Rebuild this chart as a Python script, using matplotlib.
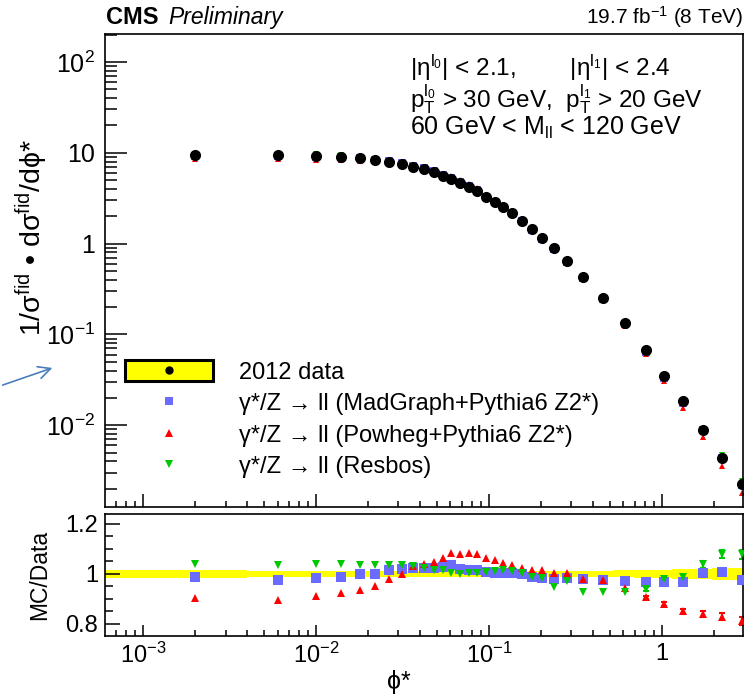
import matplotlib.pyplot as plt
import numpy as np
from matplotlib.legend_handler import HandlerTuple
from matplotlib.lines import Line2D
from matplotlib.patches import FancyArrowPatch, Patch
from matplotlib.ticker import FixedLocator, FuncFormatter, LogLocator, MultipleLocator, NullFormatter

plt.rcParams["font.family"] = ["Liberation Sans", "DejaVu Sans"]
plt.rcParams["mathtext.fontset"] = "custom"
plt.rcParams["mathtext.rm"] = "Liberation Sans"
plt.rcParams["mathtext.it"] = "Liberation Sans:italic"
plt.rcParams["mathtext.bf"] = "Liberation Sans:bold"
plt.rcParams["mathtext.default"] = "regular"
plt.rcParams["mathtext.fallback"] = "stixsans"

# phi* binning and normalised cross section
phi_edges = [0, 0.004, 0.008, 0.012, 0.016, 0.020, 0.024, 0.029, 0.034, 0.039,
             0.045, 0.052, 0.057, 0.064, 0.072, 0.081, 0.091, 0.102, 0.114, 0.128,
             0.145, 0.165, 0.189, 0.219, 0.258, 0.312, 0.391, 0.524, 0.695, 0.918,
             1.153, 1.496, 1.947, 2.522, 3.277]
data_xs = [9.45, 9.45, 9.21, 8.98, 8.75, 8.32, 7.91, 7.52, 6.97, 6.62,
           6.14, 5.54, 5.14, 4.64, 4.19, 3.79, 3.25, 2.87, 2.53, 2.17,
           1.77, 1.44, 1.15, 0.892, 0.641, 0.428, 0.251, 0.133, 0.0671, 0.0347,
           0.0184, 0.00881, 0.00433, 0.00224]
data_unc = [0.015, 0.012, 0.012, 0.012, 0.012, 0.012, 0.012, 0.012, 0.011, 0.011,
            0.011, 0.011, 0.011, 0.011, 0.011, 0.011, 0.011, 0.011, 0.011, 0.011,
            0.011, 0.011, 0.011, 0.012, 0.012, 0.013, 0.013, 0.014, 0.015, 0.017,
            0.019, 0.021, 0.023, 0.025]

# MC / data ratios
ratio_madgraph = [0.986, 0.975, 0.983, 0.989, 1.000, 1.000, 1.014, 1.021, 1.025, 1.022,
                  1.025, 1.028, 1.034, 1.018, 1.016, 1.016, 1.008, 1.003, 1.003, 1.003,
                  0.999, 0.988, 0.983, 0.979, 0.982, 0.979, 0.975, 0.972, 0.966, 0.966,
                  0.966, 1.005, 1.008, 0.975]
ratio_powheg = [0.903, 0.897, 0.913, 0.924, 0.936, 0.950, 0.979, 0.999, 1.032, 1.038,
                1.047, 1.064, 1.082, 1.080, 1.082, 1.078, 1.064, 1.054, 1.045, 1.036,
                1.025, 1.016, 1.014, 1.005, 1.003, 0.979, 0.976, 0.942, 0.907, 0.880,
                0.851, 0.841, 0.828, 0.810]
ratio_resbos = [1.038, 1.036, 1.041, 1.041, 1.036, 1.036, 1.036, 1.036, 1.032, 1.022,
                1.016, 1.016, 1.005, 0.999, 1.003, 1.005, 1.008, 1.012, 1.014, 1.012,
                1.003, 0.989, 0.982, 0.946, 0.972, 0.929, 0.929, 0.929, 0.939, 0.979,
                0.986, 1.038, 1.078, 1.078]
stat_madgraph = [0] * 28 + [0.006, 0.008, 0.010, 0.012, 0.014, 0.016]
stat_powheg = [0] * 28 + [0.006, 0.008, 0.010, 0.012, 0.014, 0.016]
stat_resbos = [0] * 28 + [0.008, 0.010, 0.012, 0.014, 0.016, 0.018]

YELLOW = "#ffff00"
BLUE = "#6b6bff"
RED = "#ff0000"
GREEN = "#00c800"

edges = np.array(phi_edges)
centers = 0.5 * (edges[:-1] + edges[1:])
data = np.array(data_xs)
unc = np.array(data_unc)
draw_edges = np.maximum(edges, 1e-4)

series = [
    (np.array(ratio_madgraph), np.array(stat_madgraph), "s", BLUE, 6.5,
     "γ*/Z → ll (MadGraph+Pythia6 Z2*)"),
    (np.array(ratio_powheg), np.array(stat_powheg), "^", RED, 6.0,
     "γ*/Z → ll (Powheg+Pythia6 Z2*)"),
    (np.array(ratio_resbos), np.array(stat_resbos), "v", GREEN, 6.0,
     "γ*/Z → ll (Resbos)"),
]

fig = plt.figure(figsize=(7.47, 6.94), dpi=100)
ax = fig.add_axes([0.1406, 0.2695, 0.854, 0.6815])
rax = fig.add_axes([0.1406, 0.0836, 0.854, 0.1758], sharex=ax)

# main panel
for ratio, stat, marker, color, ms, label in series:
    ax.plot(centers, data * ratio, ls="none", marker=marker, color=color,
            ms=ms - 1, mew=0, zorder=2)
ax.plot(centers, data, ls="none", marker="o", color="black", ms=7, zorder=3)

ax.set_xscale("log")
ax.set_yscale("log")
ax.set_xlim(6.03e-4, 2.95)
ax.set_ylim(1.26e-3, 203)

y_labels = {100: "$10^{2}$", 10: "10", 1: "1", 0.1: "$10^{-1}$", 0.01: "$10^{-2}$"}
ax.yaxis.set_major_locator(FixedLocator(list(y_labels)))
ax.yaxis.set_major_formatter(FuncFormatter(lambda v, p: y_labels.get(round(v, 6), "")))
ax.yaxis.set_minor_locator(LogLocator(base=10, subs=np.arange(2, 10), numticks=20))
ax.yaxis.set_minor_formatter(NullFormatter())
ax.tick_params(axis="x", which="both", labelbottom=False)
ax.tick_params(axis="y", which="major", direction="in", length=16, width=1.1,
               labelsize=18, pad=7)
ax.tick_params(axis="y", which="minor", direction="in", length=8.5, width=1.1)
ax.tick_params(axis="x", which="major", direction="in", length=9.5, width=1.1)
ax.tick_params(axis="x", which="minor", direction="in", length=4.5, width=1.1)
ax.set_ylabel("1/σ$^{fid}$ • dσ$^{fid}$/dϕ*", fontsize=20.5)
ax.yaxis.set_label_coords(-0.086, 0.57)

ax.text(0.478, 0.928, "|η$^{l_0}$| < 2.1,        |η$^{l_1}$| < 2.4",
        transform=ax.transAxes, fontsize=17.5, va="center")
ax.text(0.478, 0.862, "p$_T^{l_0}$ > 30 GeV,  p$_T^{l_1}$ > 20 GeV",
        transform=ax.transAxes, fontsize=17.5, va="center")
ax.text(0.478, 0.801, "60 GeV < M$_{ll}$ < 120 GeV",
        transform=ax.transAxes, fontsize=18, va="center")

handles = [(Patch(facecolor=YELLOW, edgecolor="black", linewidth=2.2),
            Line2D([], [], ls="none", marker="o", color="black", ms=5))]
labels = ["2012 data"]
for ratio, stat, marker, color, ms, label in series:
    handles.append(Line2D([], [], ls="none", marker=marker, color=color, ms=5.5, mew=0))
    labels.append(label)
ax.legend(handles, labels, loc="upper left", bbox_to_anchor=(0.031, 0.31),
          frameon=False, fontsize=17, handlelength=3.75, handleheight=1.0,
          handletextpad=1.1, labelspacing=0.33, borderpad=0, borderaxespad=0,
          handler_map={tuple: HandlerTuple(ndivide=1)})

# ratio panel
band_lo = np.append(1 - unc, 1 - unc[-1])
band_hi = np.append(1 + unc, 1 + unc[-1])
rax.fill_between(draw_edges, band_lo, band_hi, step="post", color=YELLOW, lw=0, zorder=1)
for ratio, stat, marker, color, ms, label in series:
    has_err = stat > 0
    rax.errorbar(centers[has_err], ratio[has_err], yerr=stat[has_err], ls="none",
                 color=color, elinewidth=1.5, capsize=2, capthick=1.5, zorder=2)
    rax.plot(centers, ratio, ls="none", marker=marker, color=color, ms=ms, mew=0,
             zorder=3)

rax.set_ylim(0.752, 1.24)
rax.yaxis.set_major_locator(FixedLocator([0.8, 1.0, 1.2]))
rax.yaxis.set_major_formatter(FuncFormatter(lambda v, p: f"{v:g}"))
rax.yaxis.set_minor_locator(MultipleLocator(0.05))
x_labels = {0.001: "$10^{-3}$", 0.01: "$10^{-2}$", 0.1: "$10^{-1}$", 1: "1"}
rax.xaxis.set_major_locator(FixedLocator(list(x_labels)))
rax.xaxis.set_major_formatter(FuncFormatter(lambda v, p: x_labels.get(round(v, 6), "")))
rax.xaxis.set_minor_locator(LogLocator(base=10, subs=np.arange(2, 10), numticks=20))
rax.xaxis.set_minor_formatter(NullFormatter())
rax.tick_params(axis="y", which="major", direction="in", length=11, width=1.1,
                labelsize=17, pad=5)
rax.tick_params(axis="y", which="minor", direction="in", length=6, width=1.1)
rax.tick_params(axis="x", which="major", direction="in", length=8, width=1.1,
                labelsize=17, pad=5)
rax.tick_params(axis="x", which="minor", direction="in", length=4, width=1.1)
rax.set_ylabel("MC/Data", fontsize=16.5)
rax.yaxis.set_label_coords(-0.084, 0.5)
rax.set_xlabel("ϕ*", fontsize=18)
rax.xaxis.set_label_coords(0.46, -0.28)

for a in (ax, rax):
    for spine in a.spines.values():
        spine.set_linewidth(1.2)

fig.text(0.1415, 0.975, "CMS", fontsize=17, fontweight="bold", va="center")
fig.text(0.225, 0.975, "Preliminary", fontsize=16.5, style="italic", va="center")
fig.text(0.995, 0.975, "19.7 fb$^{-1}$ (8 TeV)", fontsize=15, ha="right", va="center")

fig.add_artist(FancyArrowPatch((0.0, 1 - 386 / 694), (55 / 747, 1 - 367 / 694),
                               transform=fig.transFigure, arrowstyle="->",
                               mutation_scale=22, color="#4a7ebb", lw=1.2))

fig.savefig("out.png", dpi=100)
